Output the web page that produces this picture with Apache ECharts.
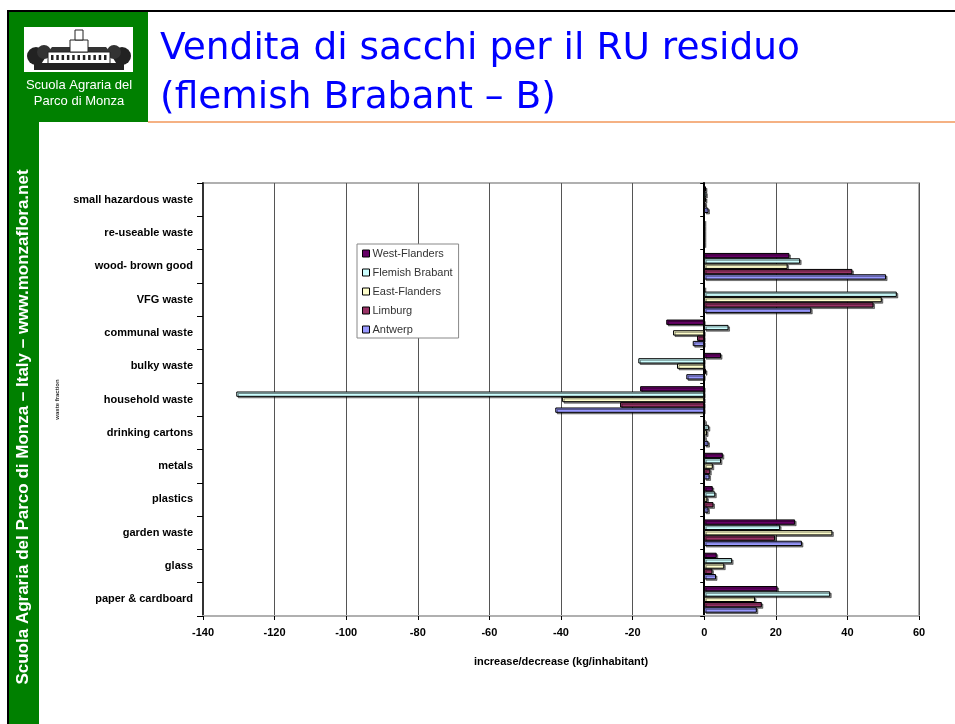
<!DOCTYPE html>
<html><head><meta charset="utf-8">
<script src="https://cdn.jsdelivr.net/npm/echarts/dist/echarts.min.js"></script>
<style>html,body{margin:0;padding:0;background:#fff;overflow:hidden}#c{width:955px;height:724px}</style>
</head><body><div id="c"></div>
<script>
const categories = ['small hazardous waste','re-useable waste','wood- brown good','VFG waste','communal waste','bulky waste','household waste','drinking cartons','metals','plastics','garden waste','glass','paper & cardboard'];
const seriesNames = ['West-Flanders','Flemish Brabant','East-Flanders','Limburg','Antwerp'];
const westFlanders  = [0.5, 0, 23.8, 0, -10.6, 4.7, -17.9, 0.3, 5.2, 2.4, 25.4, 3.5, 20.5];
const flemishBrabant = [0.6, 0, 26.8, 53.8, 6.8, -18.4, -130.7, 1.3, 4.7, 3.1, 21.2, 7.8, 35.2];
const eastFlanders  = [0.5, 0, 23.3, 49.6, -8.7, -7.6, -39.7, 0.8, 2.4, 0.9, 35.8, 5.6, 14.2];
const limburg       = [0.4, 0, 41.4, 47.3, -2.0, 0.5, -23.5, 0.3, 1.7, 2.6, 19.8, 2.3, 16.1];
const antwerp       = [1.2, 0, 50.8, 29.9, -3.2, -5.0, -41.6, 1.2, 1.5, 1.2, 27.3, 3.3, 14.7];
const xTicks = {min: -140, max: 60, interval: 20};
const colors = ['#660066','#ccffff','#ffffcc','#993366','#9999ff'];
const seriesData = [westFlanders, flemishBrabant, eastFlanders, limburg, antwerp];

const chart = echarts.init(document.getElementById('c'), null, {renderer: 'canvas'});
const lab = {fontFamily: 'Liberation Sans, Arial, sans-serif', fontWeight: 'bold', fontSize: 11, color: '#000'};

// simple building logo
const logo = [
  {type:'rect', shape:{x:24,y:27,width:109,height:45}, style:{fill:'#fff'}},
  {type:'circle', shape:{cx:36,cy:56,r:9}, style:{fill:'#222'}},
  {type:'circle', shape:{cx:44,cy:52,r:7}, style:{fill:'#333'}},
  {type:'circle', shape:{cx:122,cy:56,r:9}, style:{fill:'#222'}},
  {type:'circle', shape:{cx:114,cy:52,r:7}, style:{fill:'#333'}},
  {type:'polygon', shape:{points:[[52,47],[106,47],[110,52],[48,52]]}, style:{fill:'#333'}},
  {type:'rect', shape:{x:48,y:52,width:62,height:12}, style:{fill:'#fff',stroke:'#222',lineWidth:1}},
  {type:'rect', shape:{x:70,y:40,width:18,height:12}, style:{fill:'#fff',stroke:'#222',lineWidth:1}},
  {type:'rect', shape:{x:75,y:30,width:8,height:10}, style:{fill:'#fff',stroke:'#222',lineWidth:1}},
  {type:'rect', shape:{x:34,y:63,width:90,height:7}, style:{fill:'#222'}}
];
for (let i = 0; i < 11; i++) {
  logo.push({type:'rect', shape:{x:51+i*5.3,y:55,width:2.5,height:5}, style:{fill:'#222'}});
}

chart.setOption({
  animation: false,
  backgroundColor: '#fff',
  color: colors,
  graphic: [
    {type:'rect', shape:{x:7,y:10,width:948,height:2}, style:{fill:'#000'}},
    {type:'rect', shape:{x:7,y:10,width:2,height:714}, style:{fill:'#000'}},
    {type:'rect', shape:{x:9,y:12,width:139,height:110}, style:{fill:'#008000'}},
    {type:'rect', shape:{x:148,y:121,width:807,height:2}, style:{fill:'#f5b183'}},
    {type:'rect', shape:{x:9,y:122,width:30,height:602}, style:{fill:'#008000'}},
    ...logo,
    {type:'text', x:79, y:85, style:{text:'Scuola Agraria del', fill:'#fff', font:'13px Liberation Sans, Arial, sans-serif', align:'center', verticalAlign:'middle'}},
    {type:'text', x:79, y:101, style:{text:'Parco di Monza', fill:'#fff', font:'13px Liberation Sans, Arial, sans-serif', align:'center', verticalAlign:'middle'}},
    {type:'text', x:160, y:49, style:{text:'Vendita di sacchi per il RU residuo', fill:'#0000ff', font:'37.5px DejaVu Sans, Verdana, sans-serif', align:'left', verticalAlign:'middle'}},
    {type:'text', x:160, y:98, style:{text:'(flemish Brabant \u2013 B)', fill:'#0000ff', font:'37.5px DejaVu Sans, Verdana, sans-serif', align:'left', verticalAlign:'middle'}},
    {type:'text', x:23, y:427, rotation: Math.PI/2, style:{text:'Scuola Agraria del Parco di Monza \u2013 Italy \u2013 www.monzaflora.net', fill:'#fff', font:'bold 17px Liberation Sans, Arial, sans-serif', align:'center', verticalAlign:'middle'}}
  ],
  legend: {
    orient: 'vertical', left: 357, top: 244,
    data: seriesNames,
    backgroundColor: '#fff', borderColor: '#888', borderWidth: 1,
    padding: [4, 6, 3, 5], itemGap: 8, itemWidth: 7, itemHeight: 7,
    icon: 'rect',
    itemStyle: {borderColor: '#000', borderWidth: 1, shadowBlur: 0, shadowOffsetX: 0, shadowOffsetY: 0},
    textStyle: {fontFamily: 'Liberation Sans, Arial, sans-serif', fontSize: 11, color: '#333', padding: [0,0,0,-2]}
  },
  grid: {left: 203, right: 36, top: 183, bottom: 108, show: true, borderColor: '#b0b0b0', borderWidth: 2, containLabel: false},
  xAxis: {
    type: 'value', min: xTicks.min, max: xTicks.max, interval: xTicks.interval,
    name: 'increase/decrease (kg/inhabitant)', nameLocation: 'middle', nameGap: 40,
    nameTextStyle: lab,
    axisLine: {show: true, lineStyle: {color: '#b0b0b0', width: 2}},
    axisTick: {show: true, length: 4, lineStyle: {color: '#000'}},
    axisLabel: Object.assign({margin: 11}, lab),
    splitLine: {show: true, lineStyle: {color: '#555', width: 1}}
  },
  yAxis: [
    {
      type: 'category', data: categories, inverse: true, position: 'left',
      name: 'waste fraction', nameLocation: 'middle', nameGap: 143, nameRotate: 90,
      nameTextStyle: {fontSize: 6, color: '#333', fontFamily: 'Liberation Sans, Arial, sans-serif', fontWeight: 'bold'},
      axisLine: {show: true, onZero: false, lineStyle: {color: '#333', width: 2}},
      axisTick: {show: true, length: 6, lineStyle: {color: '#000'}},
      axisLabel: Object.assign({margin: 10}, lab),
      splitLine: {show: false}
    },
    {
      type: 'category', data: categories, inverse: true, position: 'right',
      axisLine: {show: true, onZero: true, lineStyle: {color: '#000', width: 2}},
      axisTick: {show: true, inside: true, length: 4, lineStyle: {color: '#000'}},
      axisLabel: {show: false},
      splitLine: {show: false}
    }
  ],
  series: seriesNames.map((n, i) => ({
    name: n, type: 'bar', yAxisIndex: 0, data: seriesData[i],
    barCategoryGap: '20%', barGap: '0%',
    itemStyle: {color: colors[i], borderColor: '#000', borderWidth: 1,
      shadowColor: 'rgba(0,0,0,0.45)', shadowBlur: 0, shadowOffsetX: 1.5, shadowOffsetY: 1.5}
  }))
});
</script>
</body></html>
